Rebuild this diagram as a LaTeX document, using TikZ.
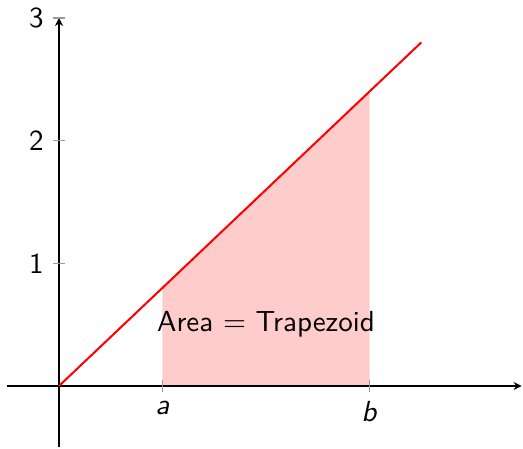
\documentclass[tikz,border=0pt]{standalone}
\usepackage{amsmath}
\usepackage{tikz}
\usetikzlibrary{arrows.meta, positioning, calc}
\renewcommand{\familydefault}{\sfdefault}
\tikzset{
  axisline/.style={-{Stealth[length=3pt,width=3pt]}, line width=0.45pt, draw=black},
  tickmark/.style={draw=gray!80, line width=0.45pt},
  ticklabel/.style={font=\fontsize{10.75pt}{13pt}\selectfont, inner sep=3.3pt},
  graphline/.style={draw=red, line width=0.75pt},
  areafill/.style={fill=red!20, draw=none},
  arealabel/.style={font=\fontsize{10.75pt}{13pt}\selectfont, align=center}
}

\begin{document}
\begin{tikzpicture}[x=38.3pt, y=45.4pt]
  \useasboundingbox (-0.570,-0.513) rectangle (4.483,3.146);

  % corners of the shaded region
  \coordinate (O) at (0,0);
  \coordinate (a0) at (1,0);
  \coordinate (a1) at (1,0.8);
  \coordinate (b1) at (3,2.4);
  \coordinate (b0) at (3,0);
  \coordinate (lineend) at (3.5,2.8);

  \fill[areafill] (a0) -- (a1) -- (b1) -- (b0) -- cycle;

  % axes
  \coordinate (xmin) at (-0.5,0);
  \coordinate (xmax) at (4.47,0);
  \coordinate (ymin) at (0,-0.5);
  \coordinate (ymax) at (0,3);
  \draw[axisline] (xmin) -- (xmax);
  \draw[axisline] (ymin) -- (ymax);

  % ticks on the y axis
  \foreach \y in {1,2,3} {
    \coordinate (ytick\y) at (0,\y);
    \draw[tickmark] ([xshift=-2.2pt]ytick\y) -- ([xshift=2.2pt]ytick\y);
    \node[ticklabel, anchor=east] (ylab\y) at ([xshift=-2.2pt]ytick\y) {\y};
  }

  % ticks on the x axis
  \draw[tickmark] ([yshift=-2.2pt]a0) -- ([yshift=2.2pt]a0);
  \draw[tickmark] ([yshift=-2.2pt]b0) -- ([yshift=2.2pt]b0);
  \node[ticklabel, anchor=north] (alab) at ([yshift=-2.2pt]a0) {\textit{a}};
  \node[ticklabel, anchor=north] (blab) at ([yshift=-2.2pt]b0) {\textit{b}};

  \draw[graphline] (O) -- (lineend);

  \node[arealabel] (area) at (2,0.5) {Area $=$ Trapezoid};
\end{tikzpicture}
\end{document}
